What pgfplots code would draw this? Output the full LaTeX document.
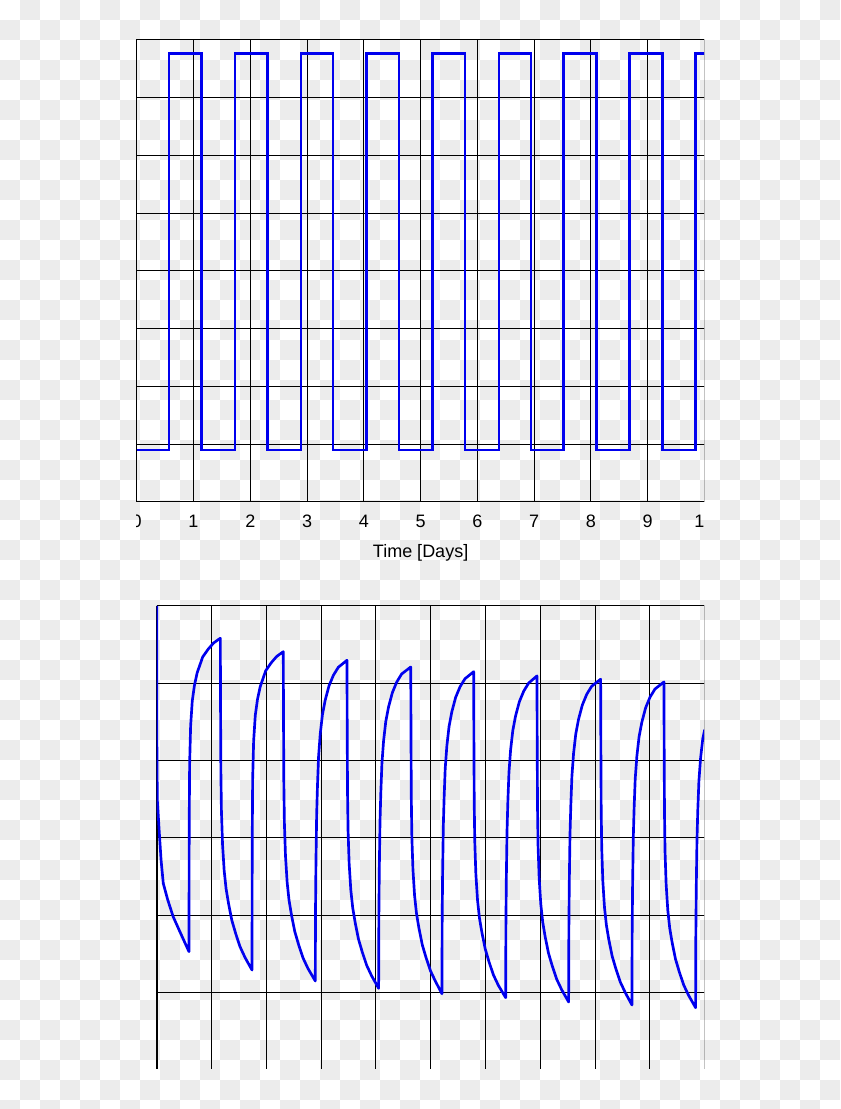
\documentclass[border=0pt]{standalone}
\usepackage{pgfplots}
\pgfplotsset{compat=1.18}
\usepackage{fontspec}
\setmainfont{Liberation Sans}
\definecolor{chk}{RGB}{236,236,236}
\definecolor{curve}{RGB}{0,0,238}
\begin{document}
\begin{tikzpicture}
\path[use as bounding box] (0pt,0pt) rectangle (630pt,831.75pt);
\fill[white] (0pt,0pt) rectangle (630pt,831.75pt);
\begin{scope}[x=0.75pt,y=0.75pt]
\clip (0,0) rectangle (840,1109);
\foreach \r in {0,...,55}{\foreach \c in {0,...,41}{\pgfmathtruncatemacro{\k}{\r+\c}\ifodd\k\relax\fill[chk] (20*\c,1109-20*\r) rectangle ++(20,-20);\fi}}
\end{scope}
\begin{scope}
\clip (102.15pt,30.525pt) rectangle (528.15pt,831.75pt);
\begin{axis}[at={(102.525pt,455.25pt)}, anchor=south west,
  scale only axis, width=425.85pt, height=346.5pt,
  xmin=0, xmax=10, ymin=0, ymax=8,
  xtick={0,...,10}, ytick={0,...,8}, yticklabels={},
  grid=major, major grid style={black, line width=0.75pt},
  major tick length=0pt,
  axis line style={black, line width=0.75pt},
  /pgf/number format/assume math mode=true,
  xticklabel style={font=\fontsize{13.5}{16}\selectfont, anchor=base, yshift=-19pt, inner sep=0pt},
  xlabel={Time [Days]},
  xlabel style={at={(axis description cs:0.5,0)}, anchor=base, yshift=-41.8pt, font=\fontsize{13.5}{16}\selectfont, inner sep=0pt},
  axis background/.style={fill=none}]
\addplot[curve, line width=2pt, line join=miter] coordinates {
(0,0.9) (0.569,0.9) (0.569,7.77) (1.145,7.77) (1.145,0.9) (1.731,0.9) (1.731,7.77) (2.300,7.77) (2.300,0.9) (2.893,0.9) (2.893,7.77) (3.457,7.77) (3.457,0.9) (4.051,0.9) (4.051,7.77) (4.620,7.77) (4.620,0.9) (5.213,0.9) (5.213,7.77) (5.782,7.77) (5.782,0.9) (6.381,0.9) (6.381,7.77) (6.944,7.77) (6.944,0.9) (7.513,0.9) (7.513,7.77) (8.101,7.77) (8.101,0.9) (8.676,0.9) (8.676,7.77) (9.257,7.77) (9.257,0.9) (9.845,0.9) (9.845,7.77) (10,7.77)
};
\end{axis}
\begin{axis}[at={(117.525pt,29.55pt)}, anchor=south west,
  scale only axis, width=411pt, height=347.7pt,
  xmin=0, xmax=10, ymin=0, ymax=6,
  xtick={0,...,10}, ytick={0,...,6}, xticklabels={}, yticklabels={},
  grid=major, major grid style={black, line width=0.75pt},
  major tick length=0pt,
  separate axis lines,
  x axis line style={black, line width=0.75pt},
  y axis line style={black, line width=1.5pt}]
\addplot[curve, line width=2pt, line join=round] coordinates {
(0,6.0) (0.004,4.138) (0.011,3.49) (0.048,3.06) (0.08,2.71) (0.12,2.41) (0.2,2.20) (0.30,1.98) (0.42,1.79) (0.589,1.526)
(0.593,3.149) (0.601,3.960) (0.619,4.447) (0.649,4.772) (0.689,4.974) (0.739,5.137) (0.839,5.340) (0.939,5.441) (1.039,5.522) (1.161,5.583)
(1.165,4.724) (1.171,3.865) (1.181,3.350) (1.201,2.921) (1.231,2.577) (1.266,2.341) (1.311,2.148) (1.371,1.933) (1.441,1.761) (1.521,1.590) (1.611,1.452) (1.739,1.289)
(1.743,2.937) (1.751,3.761) (1.769,4.255) (1.799,4.585) (1.839,4.791) (1.889,4.956) (1.989,5.162) (2.089,5.265) (2.189,5.347) (2.310,5.409)
(2.314,4.557) (2.320,3.704) (2.330,3.193) (2.350,2.767) (2.380,2.426) (2.415,2.191) (2.460,1.999) (2.520,1.786) (2.590,1.616) (2.670,1.445) (2.760,1.309) (2.894,1.147)
(2.898,2.060) (2.906,2.683) (2.919,3.306) (2.934,3.679) (2.954,4.053) (2.984,4.343) (3.024,4.592) (3.074,4.779) (3.144,4.966) (3.224,5.103) (3.314,5.207) (3.472,5.298)
(3.476,4.449) (3.482,3.600) (3.492,3.090) (3.512,2.665) (3.542,2.326) (3.577,2.092) (3.622,1.901) (3.682,1.689) (3.752,1.519) (3.832,1.349) (3.922,1.213) (4.050,1.052)
(4.054,1.967) (4.062,2.591) (4.075,3.215) (4.090,3.589) (4.110,3.963) (4.140,4.254) (4.180,4.504) (4.230,4.691) (4.300,4.878) (4.380,5.016) (4.470,5.120) (4.636,5.211)
(4.640,4.365) (4.646,3.519) (4.656,3.012) (4.676,2.589) (4.706,2.251) (4.741,2.018) (4.786,1.828) (4.846,1.616) (4.916,1.447) (4.996,1.278) (5.086,1.143) (5.205,0.982)
(5.209,1.899) (5.217,2.524) (5.230,3.149) (5.245,3.524) (5.265,3.900) (5.295,4.191) (5.335,4.441) (5.385,4.629) (5.455,4.817) (5.535,4.954) (5.625,5.058) (5.784,5.150)
(5.788,4.306) (5.794,3.462) (5.804,2.956) (5.824,2.534) (5.854,2.197) (5.889,1.965) (5.934,1.775) (5.994,1.564) (6.064,1.395) (6.144,1.226) (6.234,1.091) (6.368,0.931)
(6.372,1.847) (6.380,2.472) (6.393,3.096) (6.408,3.471) (6.428,3.846) (6.458,4.137) (6.498,4.387) (6.548,4.575) (6.618,4.762) (6.698,4.899) (6.788,5.003) (6.939,5.095)
(6.943,4.251) (6.949,3.407) (6.959,2.901) (6.979,2.479) (7.009,2.141) (7.044,1.909) (7.089,1.719) (7.149,1.508) (7.219,1.339) (7.299,1.170) (7.389,1.035) (7.517,0.875)
(7.521,1.794) (7.529,2.421) (7.542,3.048) (7.557,3.424) (7.577,3.800) (7.607,4.092) (7.647,4.343) (7.697,4.531) (7.767,4.719) (7.847,4.857) (7.937,4.961) (8.101,5.053)
(8.105,4.210) (8.111,3.366) (8.121,2.860) (8.141,2.438) (8.171,2.101) (8.206,1.869) (8.251,1.679) (8.311,1.469) (8.381,1.300) (8.461,1.131) (8.551,0.996) (8.672,0.836)
(8.676,1.756) (8.684,2.383) (8.697,3.010) (8.712,3.386) (8.732,3.763) (8.762,4.055) (8.802,4.306) (8.852,4.494) (8.922,4.683) (9.002,4.820) (9.092,4.925) (9.256,5.017)
(9.260,4.174) (9.266,3.331) (9.276,2.825) (9.296,2.403) (9.326,2.066) (9.361,1.834) (9.406,1.644) (9.466,1.433) (9.536,1.265) (9.616,1.096) (9.706,0.961) (9.834,0.801)
(9.838,1.723) (9.846,2.351) (9.859,2.980) (9.874,3.357) (9.894,3.734) (9.924,4.027) (9.964,4.279) (10.0,4.40)
};
\end{axis}
\end{scope}
\end{tikzpicture}
\end{document}
